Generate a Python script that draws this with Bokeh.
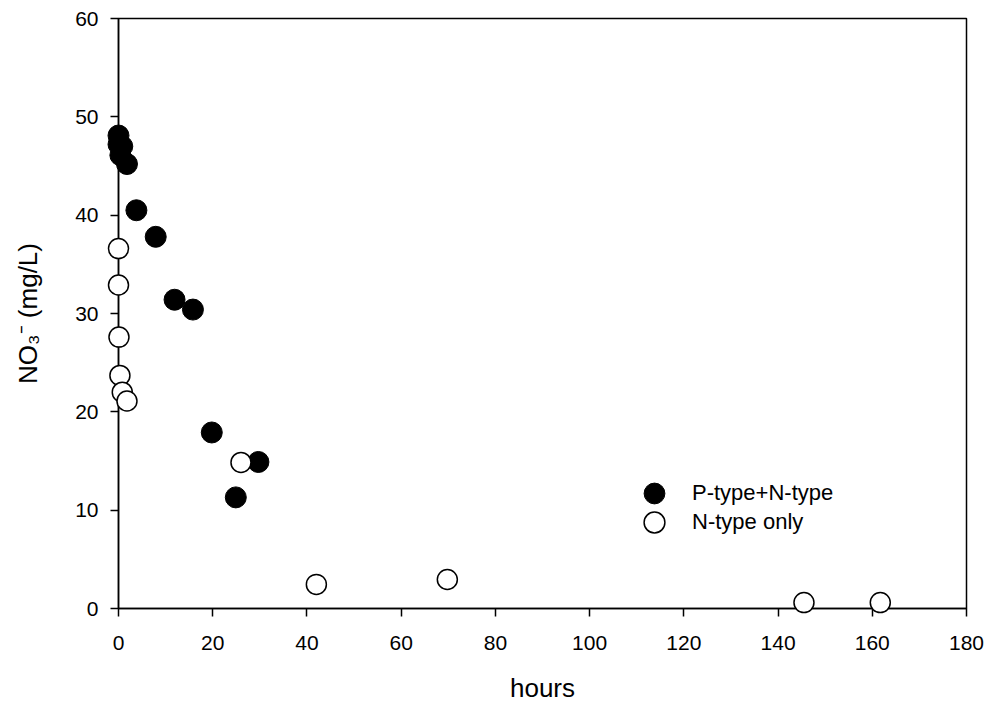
from bokeh.plotting import figure
from bokeh.models import Range1d, FixedTicker, Legend, LegendItem
from bokeh.embed import file_html
from bokeh.resources import INLINE

# P-type + N-type (filled)
pn_hours = [0, 0, 0.8, 0.4, 1.8, 3.8, 7.9, 11.9, 15.8, 19.8, 24.9, 29.7]
pn_no3 = [48.1, 47.2, 47.0, 46.1, 45.2, 40.5, 37.8, 31.4, 30.4, 17.9, 11.3, 14.9]

# N-type only (open)
n_hours = [0, 0, 0.1, 0.3, 0.8, 1.8, 26.0, 42.0, 69.8, 145.5, 161.7]
n_no3 = [36.6, 32.9, 27.6, 23.7, 22.0, 21.1, 14.85, 2.45, 2.95, 0.6, 0.6]

x_ticks = [0, 20, 40, 60, 80, 100, 120, 140, 160, 180]
y_ticks = [0, 10, 20, 30, 40, 50, 60]

series_labels = ["P-type+N-type", "N-type only"]

FONT = "Liberation Sans"

p = figure(width=986, height=711, output_backend="svg", toolbar_location=None,
           x_range=Range1d(0, 180), y_range=Range1d(0, 60),
           min_border_left=118, min_border_right=20, min_border_top=18, min_border_bottom=103)
p.background_fill_color = "white"
p.border_fill_color = "white"
p.outline_line_color = "black"
p.outline_line_width = 1.5
p.xgrid.visible = False
p.ygrid.visible = False

for ax, ticks in ((p.xaxis[0], x_ticks), (p.yaxis[0], y_ticks)):
    ax.ticker = FixedTicker(ticks=ticks)
    ax.axis_line_color = "black"
    ax.axis_line_width = 1.5
    ax.major_tick_line_color = "black"
    ax.major_tick_line_width = 1.5
    ax.major_tick_in = 0
    ax.major_tick_out = 8
    ax.minor_tick_line_color = None
    ax.major_label_text_font = FONT
    ax.major_label_text_font_size = "21px"
    ax.major_label_text_color = "black"
    ax.axis_label_text_font = FONT
    ax.axis_label_text_font_size = "26px"
    ax.axis_label_text_font_style = "normal"
    ax.axis_label_text_color = "black"

p.xaxis.axis_label = "hours"
p.yaxis.axis_label = "NO₃⁻ (mg/L)"
p.xaxis.major_label_standoff = 19
p.xaxis.axis_label_standoff = 20
p.yaxis.major_label_standoff = 12
p.yaxis.axis_label_standoff = 29

r1 = p.scatter(pn_hours, pn_no3, size=21, fill_color="black", line_color="black",
               line_width=1, level="overlay")
r2 = p.scatter(n_hours, n_no3, size=20, fill_color="white", line_color="black",
               line_width=1.5, level="overlay")

legend_style = dict(border_line_color=None, background_fill_alpha=0,
                    padding=0, margin=0, spacing=0, glyph_width=52, glyph_height=52,
                    label_standoff=12, label_text_font=FONT, label_text_font_size="22px",
                    label_text_color="black")
leg1 = Legend(items=[LegendItem(label=series_labels[0], renderers=[r1])],
              location=(510, 89), **legend_style)
leg2 = Legend(items=[LegendItem(label=series_labels[1], renderers=[r2])],
              location=(510, 60), **legend_style)
p.add_layout(leg1)
p.add_layout(leg2)

open("out.html", "w").write(file_html(p, INLINE))
